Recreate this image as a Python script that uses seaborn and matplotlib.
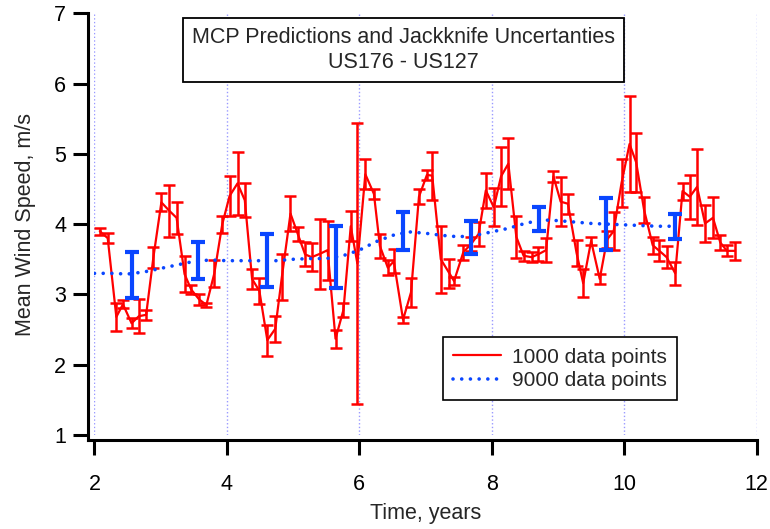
import pandas as pd
import matplotlib
matplotlib.use('Agg')
import matplotlib.pyplot as plt
import seaborn as sns

# 1000 data point series (red)
red_years = [2.08, 2.20, 2.33, 2.43, 2.56, 2.67, 2.78, 2.89, 3.01, 3.13,
             3.24, 3.36, 3.46, 3.58, 3.69, 3.81, 3.93, 4.04, 4.16, 4.27,
             4.38, 4.49, 4.61, 4.73, 4.83, 4.96, 5.07, 5.18, 5.28, 5.41,
             5.52, 5.64, 5.76, 5.87, 5.97, 6.09, 6.22, 6.31, 6.43, 6.52,
             6.66, 6.78, 6.90, 7.02, 7.10, 7.23, 7.36, 7.43, 7.57, 7.69,
             7.80, 7.91, 8.03, 8.14, 8.25, 8.37, 8.48, 8.60, 8.70, 8.82,
             8.93, 9.04, 9.15, 9.28, 9.38, 9.50, 9.63, 9.74, 9.84, 9.96,
             10.08, 10.18, 10.30, 10.43, 10.53, 10.64, 10.77, 10.88, 10.99, 11.10,
             11.22, 11.34, 11.45, 11.55, 11.67]
red_speed = [3.90, 3.80, 2.68, 2.86, 2.59, 2.69, 2.71, 3.53, 4.31, 4.19,
             4.09, 3.29, 3.07, 2.93, 2.85, 3.30, 4.00, 4.40, 4.58, 4.34,
             3.22, 3.05, 2.35, 2.51, 3.25, 4.15, 3.86, 3.57, 3.53, 3.58,
             3.63, 2.37, 2.78, 3.97, 3.44, 4.71, 4.43, 3.69, 3.38, 3.47,
             2.64, 3.03, 4.39, 4.70, 4.69, 3.50, 3.30, 3.19, 3.60, 3.72,
             3.86, 4.48, 4.24, 4.68, 4.86, 3.82, 3.55, 3.53, 3.57, 3.63,
             4.68, 4.32, 4.29, 3.59, 3.16, 3.76, 3.22, 3.78, 3.90, 4.59,
             5.14, 4.88, 4.20, 3.70, 3.62, 3.53, 3.30, 4.47, 4.39, 4.53,
             4.01, 4.09, 3.74, 3.62, 3.62]
red_err = [0.05, 0.07, 0.20, 0.06, 0.07, 0.24, 0.07, 0.15, 0.13, 0.37,
           0.23, 0.25, 0.07, 0.08, 0.03, 0.19, 0.12, 0.28, 0.45, 0.24,
           0.14, 0.18, 0.22, 0.19, 0.33, 0.25, 0.10, 0.17, 0.20, 0.50,
           0.42, 0.13, 0.10, 0.21, 2.00, 0.21, 0.07, 0.17, 0.11, 0.17,
           0.04, 0.21, 0.11, 0.07, 0.34, 0.48, 0.21, 0.06, 0.11, 0.10,
           0.17, 0.25, 0.27, 0.42, 0.36, 0.30, 0.07, 0.07, 0.10, 0.17,
           0.08, 0.35, 0.14, 0.19, 0.20, 0.05, 0.07, 0.12, 0.27, 0.34,
           0.68, 0.42, 0.18, 0.12, 0.15, 0.16, 0.16, 0.12, 0.31, 0.54,
           0.26, 0.29, 0.11, 0.08, 0.13]

# 9000 data point series (blue)
blue_years = [2.0, 2.25, 2.5, 2.75, 3.0, 3.25, 3.5, 3.75, 4.0, 4.25,
              4.5, 4.75, 5.0, 5.25, 5.5, 5.75, 6.0, 6.25, 6.5, 6.75,
              7.0, 7.25, 7.5, 7.75, 8.0, 8.25, 8.5, 8.75, 9.0, 9.25,
              9.5, 9.75, 10.0, 10.25, 10.5, 10.77]
blue_speed = [3.30, 3.30, 3.29, 3.32, 3.37, 3.42, 3.47, 3.49, 3.48, 3.48,
              3.48, 3.48, 3.50, 3.51, 3.51, 3.55, 3.63, 3.75, 3.84, 3.89,
              3.87, 3.84, 3.82, 3.84, 3.89, 3.94, 4.01, 4.06, 4.05, 4.03,
              4.01, 4.00, 3.99, 3.98, 3.97, 3.97]
blue_bar_years = [2.56, 3.57, 4.61, 5.64, 6.66, 7.68, 8.72, 9.73, 10.77]
blue_bar_speed = [3.28, 3.48, 3.48, 3.53, 3.90, 3.81, 4.07, 4.00, 3.97]
blue_bar_err = [0.33, 0.26, 0.38, 0.44, 0.27, 0.23, 0.17, 0.37, 0.18]

red_df = pd.DataFrame({'year': red_years, 'speed': red_speed})
blue_df = pd.DataFrame({'year': blue_years, 'speed': blue_speed})

sns.set_style('ticks')
plt.rcParams['font.family'] = ['Liberation Sans', 'DejaVu Sans']
plt.rcParams['font.size'] = 15.5

fig = plt.figure(figsize=(7.7, 5.29), dpi=100)
ax = fig.add_axes([0.1227, 0.1777, 0.8600, 0.7972])

RED = '#ff0000'
BLUE = '#0a46ff'

# red series with its error bars
sns.lineplot(data=red_df, x='year', y='speed', color=RED, linewidth=1.6,
             label='1000 data points', ax=ax, zorder=3)
ax.errorbar(red_years, red_speed, yerr=red_err, fmt='none', ecolor=RED,
            elinewidth=1.8, capsize=4.5, capthick=1.8, zorder=3)

# blue series: dotted line plus thick bars every ~1 year
sns.lineplot(data=blue_df, x='year', y='speed', color=BLUE, linewidth=2.6,
             linestyle=(0, (0.01, 2.4)), dash_capstyle='round',
             label='9000 data points', ax=ax, zorder=4)
ax.errorbar(blue_bar_years, blue_bar_speed, yerr=blue_bar_err, fmt='none',
            ecolor=BLUE, elinewidth=3.0, capsize=4.8, capthick=3.0, zorder=5)

ax.set_xlim(2, 12)
ax.set_ylim(1, 7)
ax.set_xticks([2, 4, 6, 8, 10, 12])
ax.set_yticks([1, 2, 3, 4, 5, 6, 7])
ax.grid(axis='x', color='#8080ff', linestyle=':', linewidth=1.0, alpha=0.8)
ax.grid(axis='y', visible=False)

for side in ['top', 'right']:
    ax.spines[side].set_visible(False)
for side in ['left', 'bottom']:
    ax.spines[side].set_linewidth(2.2)
    ax.spines[side].set_color('black')
ax.spines['left'].set_position(('outward', 4.7))
ax.spines['bottom'].set_position(('outward', 3.6))
ax.spines['left'].set_bounds(0.93, 7)
ax.spines['bottom'].set_bounds(1.9, 12)

ax.tick_params(axis='both', direction='out', length=10.8, width=2.2,
               labelsize=15.5, colors='black')
ax.tick_params(axis='x', pad=14)
ax.tick_params(axis='y', pad=5)

ax.set_xlabel('Time, years', fontsize=15.5)
ax.set_ylabel('Mean Wind Speed, m/s', fontsize=15.5)
ax.xaxis.set_label_coords(0.5, -0.162)
ax.yaxis.set_label_coords(-0.088, 0.5)

ax.text(0.466, 0.913, 'MCP Predictions and Jackknife Uncertanties\nUS176 - US127',
        transform=ax.transAxes, ha='center', va='center', fontsize=15.5,
        linespacing=1.2, zorder=6,
        bbox=dict(boxstyle='square,pad=0.42', facecolor='white',
                  edgecolor='black', linewidth=1.3))

leg = ax.legend(loc='center', bbox_to_anchor=(0.703, 0.157), fontsize=15,
                frameon=True, fancybox=False, framealpha=1, edgecolor='black',
                handlelength=2.3, handletextpad=0.5, labelspacing=0.2,
                borderpad=0.5)
leg.get_frame().set_linewidth(1.2)
leg.set_zorder(6)

fig.savefig('out.png', dpi=100)
